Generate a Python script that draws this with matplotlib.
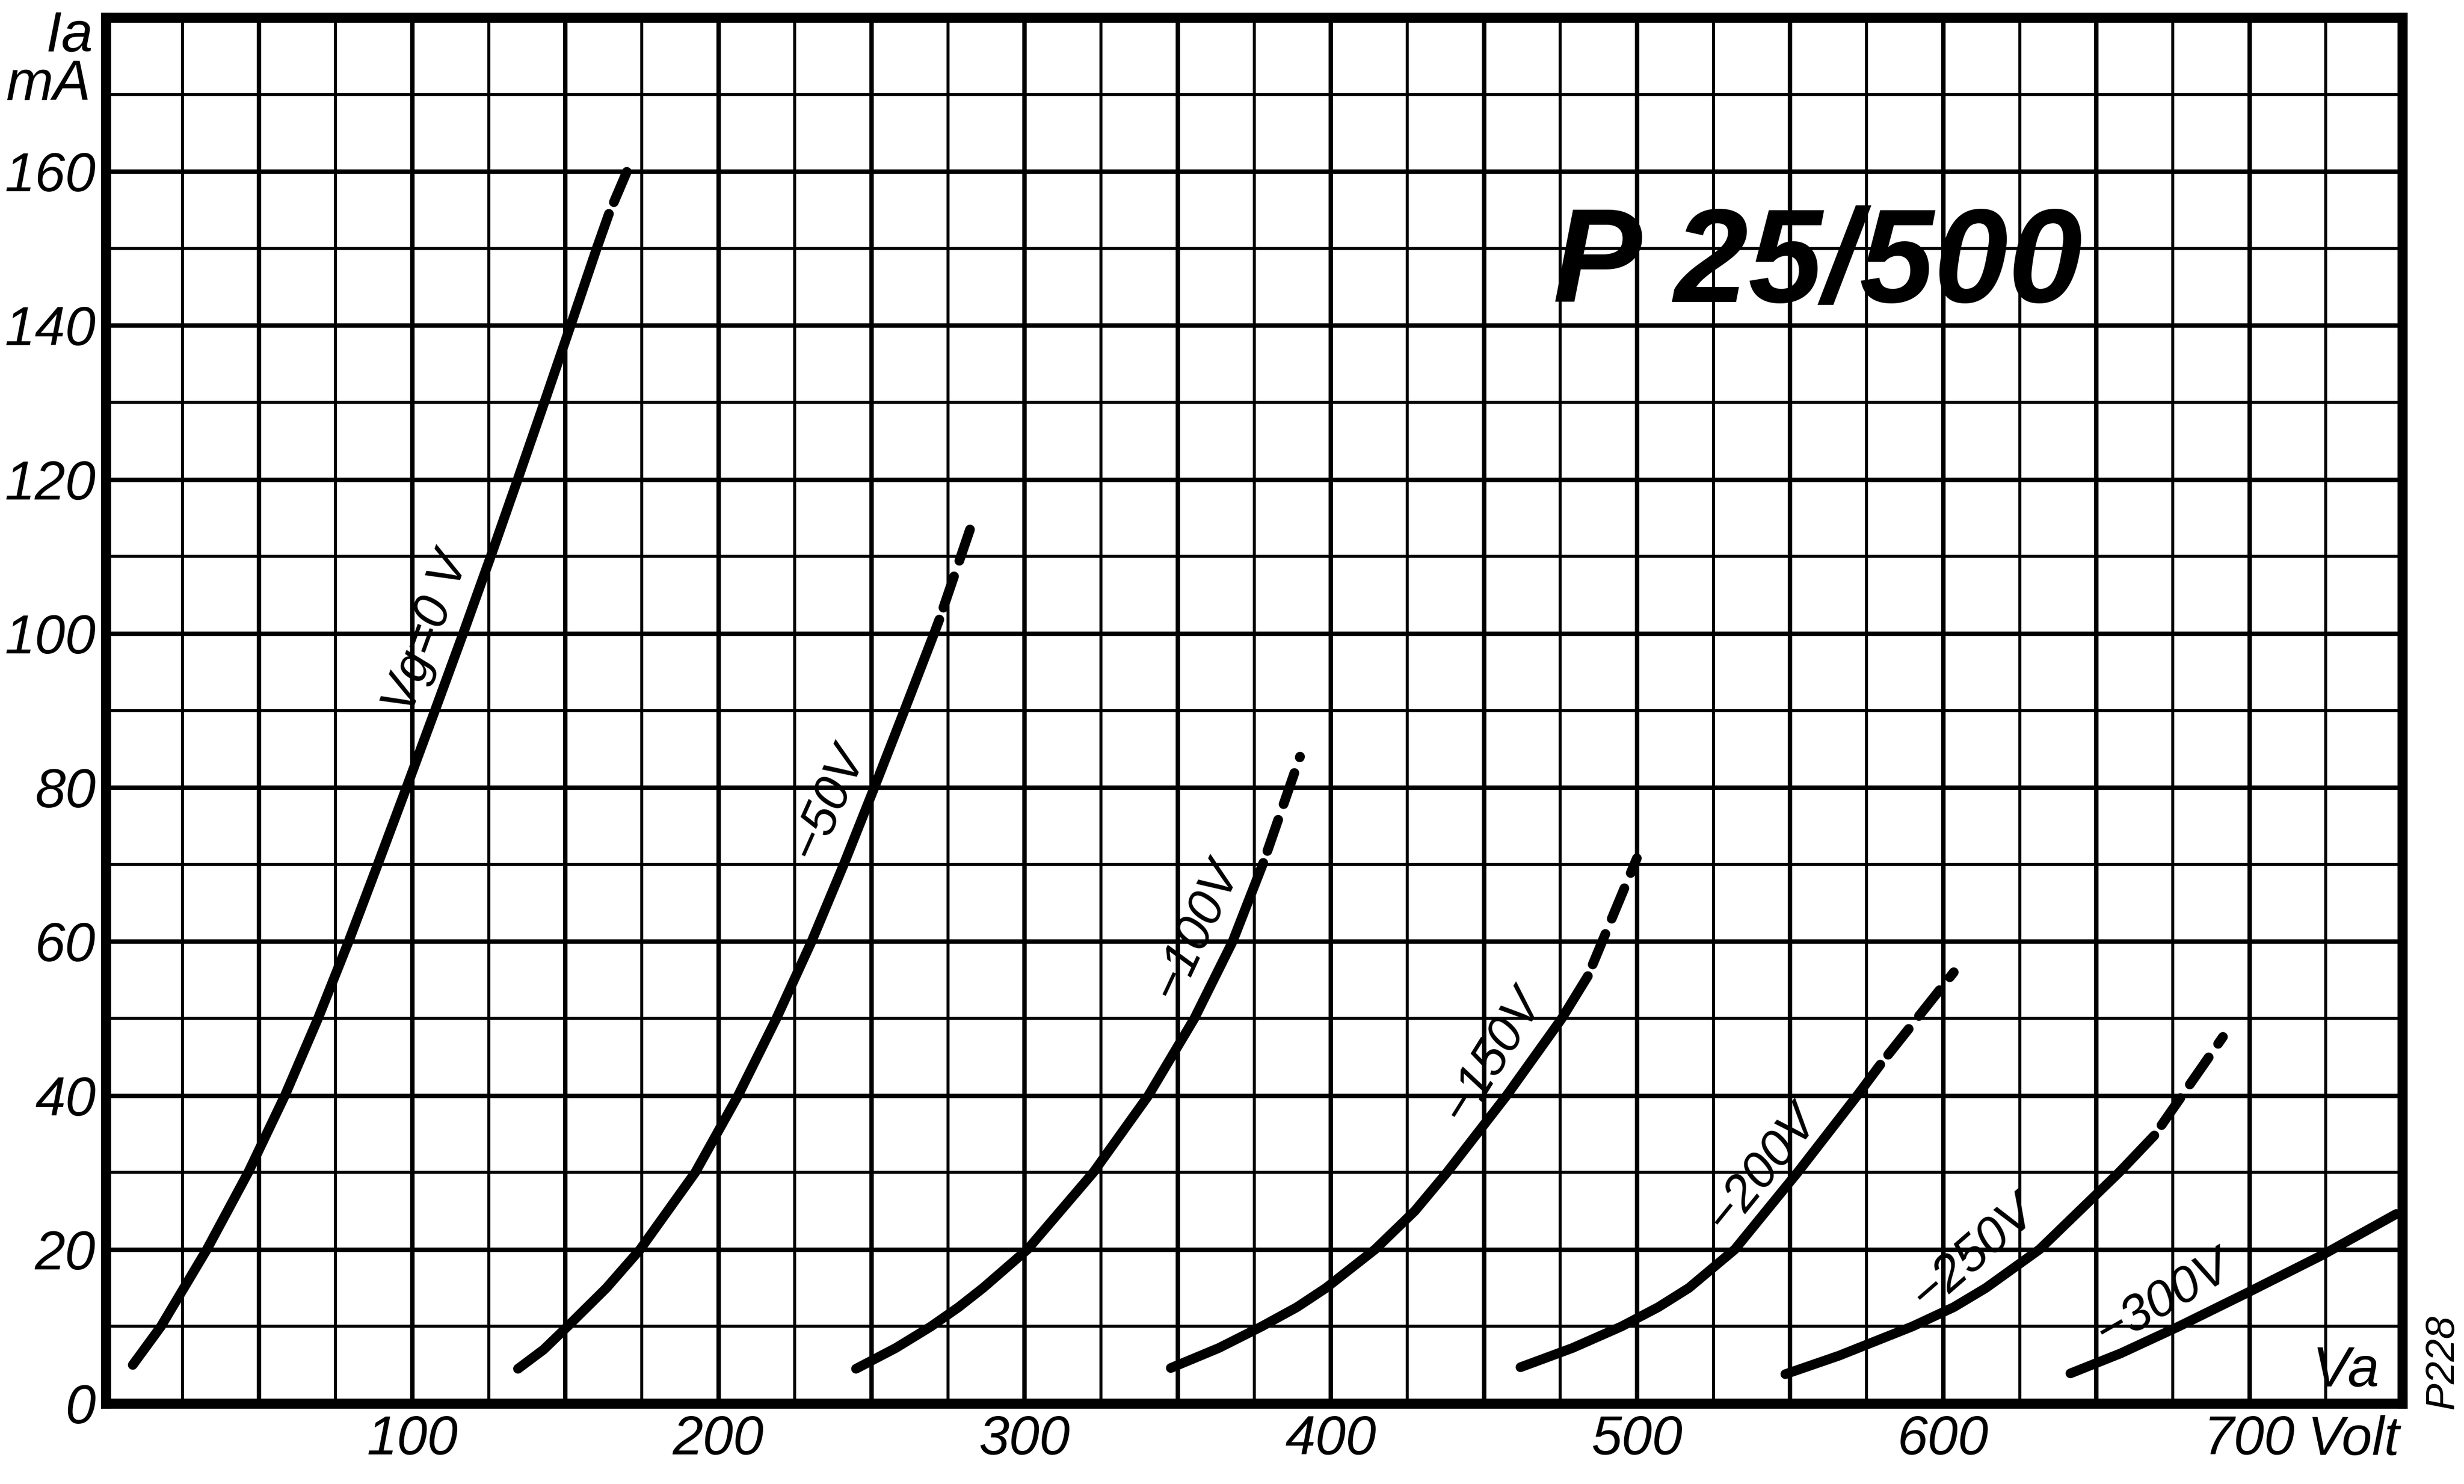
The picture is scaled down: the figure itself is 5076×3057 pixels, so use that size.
import matplotlib
matplotlib.use("Agg")
import matplotlib.pyplot as plt
from matplotlib import font_manager
import numpy as np

# anode voltage Va (V) and anode current Ia (mA) per grid bias
vg0_va = [8.8, 18.0, 33.0, 46.5, 58.5, 69.3, 79.3, 88.8, 98.2, 107.5, 116.7, 125.7, 134.5, 143.2, 151.8, 160.3, 164.3]
vg0_ia = [5.0, 10, 20, 30, 40, 50, 60, 70, 80, 90, 100, 110, 120, 130, 140, 150, 154.5]
vg0_ext_va = [164.3, 171.8]
vg0_ext_ia = [154.5, 161.5]

vg50_va = [134.6, 143.0, 150.8, 163.5, 174.5, 192.5, 206.5, 219.0, 230.5, 241.0, 251.0, 260.8, 270.5, 272.2]
vg50_ia = [4.5, 7.0, 10, 15, 20, 30, 40, 50, 60, 70, 80, 90, 100, 101.8]
vg50_ext_va = [272.2, 283.5]
vg50_ext_ia = [101.8, 115.0]

vg100_va = [245.0, 258.0, 269.5, 278.5, 286.5, 301.0, 322.5, 340.5, 355.5, 368.0, 378.0]
vg100_ia = [4.5, 7.2, 10, 12.5, 15, 20, 30, 40, 50, 60, 70.2]
vg100_ext_va = [378.0, 390.0]
vg100_ext_ia = [70.2, 84.0]

vg150_va = [347.8, 363.5, 377.5, 389.0, 398.5, 414.5, 427.5, 438.0, 457.5, 475.5, 484.0]
vg150_ia = [4.6, 7.2, 10, 12.5, 15, 20, 25, 30, 40, 50, 55.5]
vg150_ext_va = [484.0, 500.0]
vg150_ext_ia = [55.5, 70.8]

vg200_va = [462.0, 479.0, 495.0, 507.0, 517.0, 532.0, 552.5, 572.0, 579.5]
vg200_ia = [4.7, 7.2, 10, 12.5, 15, 20, 30, 40, 44]
vg200_ext_va = [579.5, 603.5]
vg200_ext_ia = [44.0, 56.0]

vg250_va = [548.5, 566.0, 590.0, 603.5, 614.0, 631.5, 657.5, 669.0]
vg250_ia = [3.8, 6.2, 10, 12.5, 15, 20, 30, 34.8]
vg250_ext_va = [669.0, 691.4]
vg250_ext_ia = [34.8, 47.6]

vg300_va = [641.6, 658.0, 677.0, 700.0, 724.0, 748.0]
vg300_ia = [3.9, 6.5, 10, 14.5, 19.3, 24.6]

curve_labels = ["Vg=0 V", "\u221250V", "\u2212100V", "\u2212150V", "\u2212200V", "\u2212250V", "\u2212300V"]

x_ticks = [100, 200, 300, 400, 500, 600, 700]
y_ticks = [0, 20, 40, 60, 80, 100, 120, 140, 160]


def pick_font(candidates):
    names = {f.name for f in font_manager.fontManager.ttflist}
    for c in candidates:
        if c in names:
            return c
    return "DejaVu Sans"


narrow = pick_font(["Liberation Sans Narrow", "DejaVu Sans Condensed", "Liberation Sans"])
plt.rcParams['font.family'] = [narrow, "DejaVu Sans"]

fig = plt.figure(figsize=(16.92, 10.19), dpi=300)
ax = fig.add_axes([0.04295, 0.0543, 0.93203, 0.93392])
ax.set_xlim(0, 750)
ax.set_ylim(0, 180)

# squared paper: heavier line every 50 V and every 20 mA
for v in np.arange(25, 750, 25):
    ax.axvline(v, color='black', lw=2.2 if v % 50 == 0 else 1.5, zorder=1)
for i in np.arange(10, 180, 10):
    ax.axhline(i, color='black', lw=2.2 if i % 20 == 0 else 1.5, zorder=1)

for s in ax.spines.values():
    s.set_linewidth(5)

curves = [
    (vg0_va, vg0_ia, vg0_ext_va, vg0_ext_ia),
    (vg50_va, vg50_ia, vg50_ext_va, vg50_ext_ia),
    (vg100_va, vg100_ia, vg100_ext_va, vg100_ext_ia),
    (vg150_va, vg150_ia, vg150_ext_va, vg150_ext_ia),
    (vg200_va, vg200_ia, vg200_ext_va, vg200_ext_ia),
    (vg250_va, vg250_ia, vg250_ext_va, vg250_ext_ia),
    (vg300_va, vg300_ia, None, None),
]
for va, ia, ext_va, ext_ia in curves:
    ax.plot(va, ia, color='black', lw=4.8, solid_capstyle='round', solid_joinstyle='round', zorder=3)
    if ext_va is not None:
        # dashed continuation, starting with a gap after the solid part
        ax.plot(ext_va, ext_ia, color='black', lw=4.8, dash_capstyle='round',
                linestyle=(3.8, (3.4, 1.7)), zorder=3)

# curve labels written along each line
label_pos = [(105, 100, 70), (236, 78, 66), (356, 61.5, 65), (452.8, 45.2, 58),
             (541, 30.5, 51), (610, 19.5, 41), (672, 13.5, 30)]
for text, (lx, ly, rot) in zip(curve_labels, label_pos):
    ax.text(lx, ly, text, fontsize=25, style='italic', rotation=rot,
            rotation_mode='anchor', ha='center', va='center', zorder=4)

ax.text(559, 147.5, "P 25/500", fontsize=66, weight='bold', style='italic',
        ha='center', va='center', zorder=4)

ax.set_xticks(x_ticks)
ax.set_xticklabels([str(t) for t in x_ticks], fontsize=27, style='italic')
ax.set_yticks(y_ticks)
ax.set_yticklabels([str(t) for t in y_ticks], fontsize=27, style='italic')
ax.tick_params(axis='both', length=0)
ax.tick_params(axis='x', pad=5.5)
ax.tick_params(axis='y', pad=5.0)

ax.text(-0.0055, 0.986, "Ia", transform=ax.transAxes, fontsize=28, style='italic',
        ha='right', va='center')
ax.text(-0.0066, 0.951, "mA", transform=ax.transAxes, fontsize=28, style='italic',
        ha='right', va='center')
ax.text(0.990, 0.004, "Va", transform=ax.transAxes, fontsize=28, style='italic',
        ha='right', va='bottom', zorder=4)
ax.text(0.9787, -0.0084, "Volt", transform=ax.transAxes, fontsize=27, style='italic',
        ha='center', va='top')
fig.text(0.9913, 0.0821, "P228", fontsize=20, style='italic', rotation=90,
         ha='center', va='center')

fig.savefig("out.png", dpi=300, facecolor='white')
